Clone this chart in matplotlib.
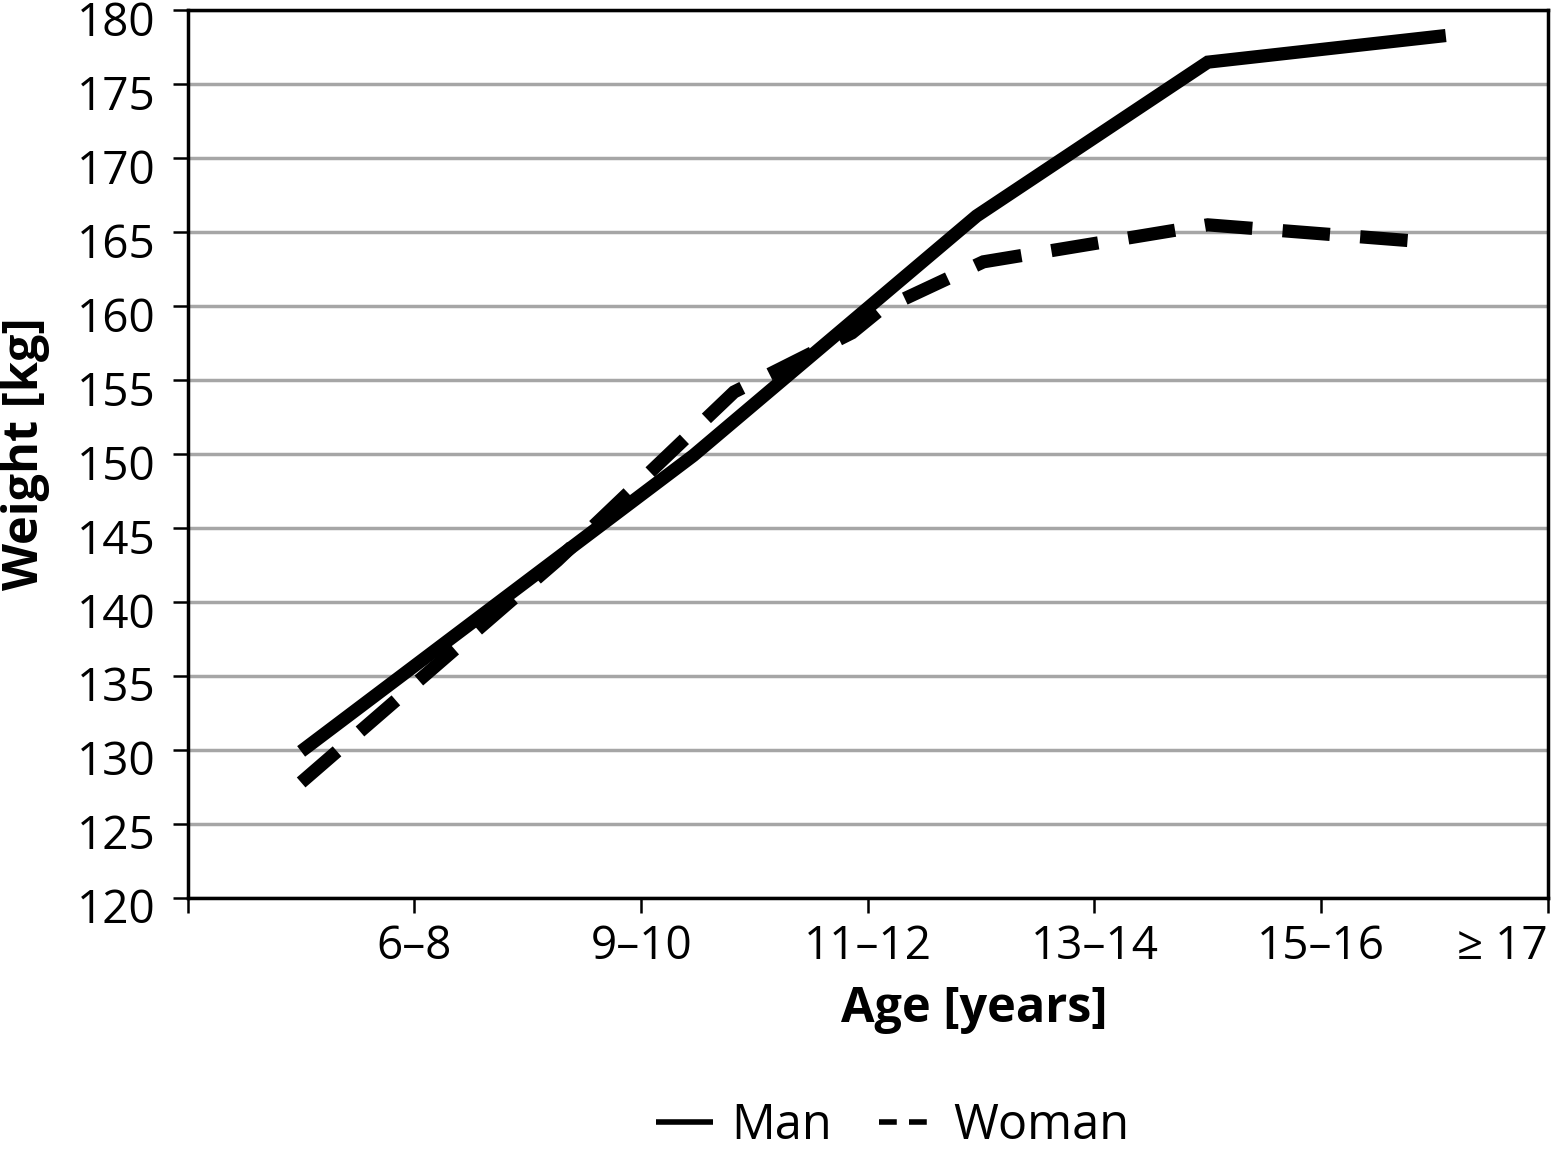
import matplotlib
matplotlib.use("Agg")
import matplotlib.pyplot as plt
import matplotlib.transforms as mtransforms
from matplotlib.lines import Line2D

# ----------------------------------------------------------------
# data (x in category units, 0 = left axis, each age group is 1 wide)

age_labels = ["6–8", "9–10", "11–12", "13–14", "15–16", "≥ 17"]

man_x = [0.5, 2.23, 3.48, 4.5, 5.55]
man_y = [129.9, 149.9, 166.1, 176.5, 178.3]

woman_x = [0.5, 1.63, 2.41, 2.93, 3.05, 3.51, 4.5, 5.5]
woman_y = [127.8, 142.8, 154.2, 158.2, 159.7, 163.0, 165.5, 164.3]

# ----------------------------------------------------------------

plt.rcParams['font.family'] = ['Open Sans', 'DejaVu Sans']
font_size = 33
label_size = 35
legend_size = 35

fig = plt.figure(figsize=(15.65, 11.54), dpi=100)
ax = fig.add_axes([0.120, 0.222, 0.869, 0.769])

line_w = 9.5
ax.plot(man_x, man_y, color='black', lw=line_w, solid_capstyle='butt',
        solid_joinstyle='miter', zorder=3)
ww, = ax.plot(woman_x, woman_y, color='black', lw=line_w, dash_capstyle='butt',
              dash_joinstyle='miter', zorder=3)
ww.set_dashes([3.6, 2.3])

ax.set_xlim(0, 6)
ax.set_ylim(120, 180)
ax.set_yticks(range(120, 181, 5))
ax.set_xticks(range(0, 7))
ax.set_xticklabels([""] + age_labels)
ax.grid(axis='y', color='#a6a6a6', lw=2.5)
ax.set_axisbelow(True)

for sp in ax.spines.values():
        sp.set_linewidth(2.5)

ax.tick_params(axis='both', direction='out', length=11, width=1.8,
               labelsize=font_size)
ax.tick_params(axis='y', pad=12)
ax.tick_params(axis='x', pad=8)

# y labels sit a little below their ticks, as in the original
shift = mtransforms.ScaledTranslation(0, -0.08, fig.dpi_scale_trans)
for t in ax.get_yticklabels():
        t.set_transform(t.get_transform() + shift)

# last label sits at the figure edge
lab = ax.get_xticklabels()[-1]
lab.set_horizontalalignment('right')
lab.set_x(6.01)

ax.set_ylabel("Weight [kg]", fontsize=label_size, fontweight='bold')
ax.yaxis.set_label_coords(-0.1015, 0.5)
ax.set_xlabel("Age [years]", fontsize=label_size, fontweight='bold', va='top')
ax.xaxis.set_label_coords(0.578, -0.098)

handles = [Line2D([], [], color='black', lw=4, solid_capstyle='butt'),
           Line2D([], [], color='black', lw=4, dashes=[3.2, 2.2], dash_capstyle='butt')]
fig.legend(handles, ["Man", "Woman"], loc='center', ncol=2, frameon=False,
           fontsize=legend_size, handlelength=1.17, handletextpad=0.37,
           columnspacing=0.97, bbox_to_anchor=(0.5706, 0.024))

fig.savefig("out.png", dpi=100)
